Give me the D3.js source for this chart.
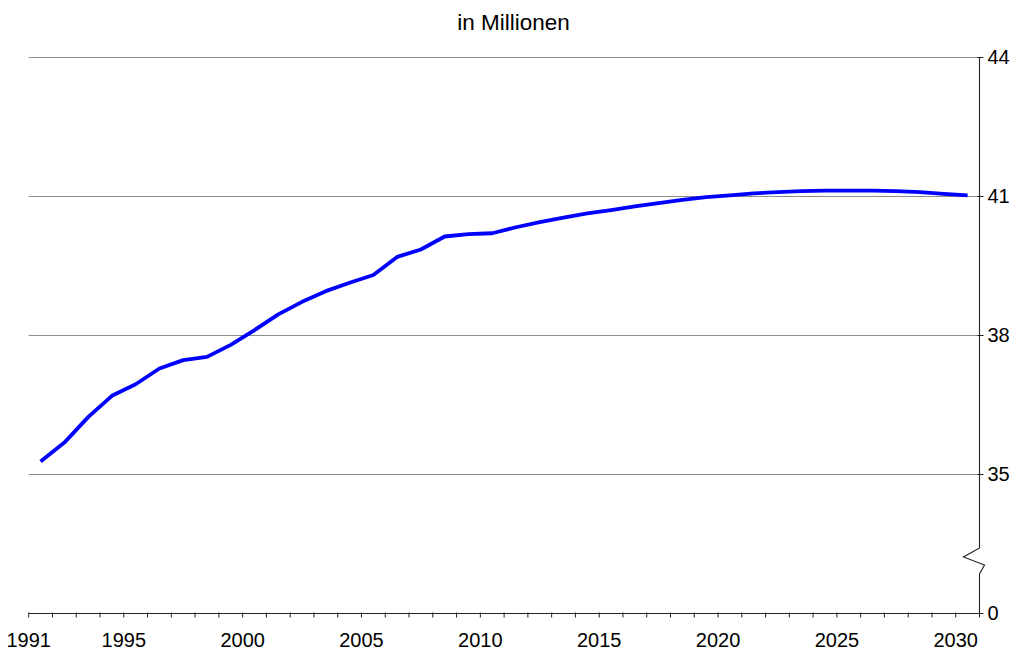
<!DOCTYPE html>
<html>
<head>
<meta charset="utf-8">
<script src="https://cdn.jsdelivr.net/npm/d3@7"></script>
<style>
  html, body { margin: 0; padding: 0; background: #fff; }
  svg { display: block; font-family: Arial, "Liberation Sans", sans-serif; }
</style>
</head>
<body>
<svg id="chart" width="1011" height="650"></svg>
<script>
// ---- data ----
const years = d3.range(1991, 2031);
const values = [
  35.27, 35.68, 36.23, 36.69, 36.94, 37.28, 37.46, 37.53, 37.79, 38.11,
  38.45, 38.72, 38.95, 39.13, 39.30, 39.69, 39.85, 40.13, 40.18, 40.20,
  40.33, 40.44, 40.54, 40.63, 40.70, 40.78, 40.85, 40.92, 40.98, 41.02,
  41.06, 41.09, 41.11, 41.12, 41.12, 41.12, 41.11, 41.09, 41.05, 41.02
];
const xTickLabels = [1991, 1995, 2000, 2005, 2010, 2015, 2020, 2025, 2030];
const yGridValues = [35, 38, 41, 44];
const yBreakBase = 32;      // position where the broken axis shows "0"
const yBreakLabel = "0";
const title = "in Millionen";

// ---- layout ----
const svg = d3.select("#chart");
const plotLeft = 28.7, plotRight = 979.5, plotTop = 57.3, plotBottom = 613;

const x = d3.scaleBand().domain(years).range([plotLeft, plotRight]).padding(0);
const y = d3.scaleLinear().domain([yBreakBase, 44]).range([plotBottom, plotTop]);
const bw = x.bandwidth();

// title
svg.append("text")
  .attr("x", 513.5).attr("y", 29.5)
  .attr("text-anchor", "middle")
  .attr("font-size", 22.5)
  .attr("fill", "#000")
  .text(title);

// gridlines
svg.append("g").selectAll("line")
  .data(yGridValues).join("line")
  .attr("x1", plotLeft).attr("x2", plotRight)
  .attr("y1", d => Math.round(y(d)) + 0.5).attr("y2", d => Math.round(y(d)) + 0.5)
  .attr("stroke", "#8c8c8c").attr("stroke-width", 1);

// x axis
const xAxis = d3.axisBottom(x)
  .tickValues(years)
  .tickSize(4)
  .tickSizeOuter(0)
  .tickFormat(d => xTickLabels.includes(d) ? d : "");
const gx = svg.append("g")
  .attr("transform", `translate(0,${Math.round(plotBottom) + 0.5})`)
  .call(xAxis);
// ticks at band boundaries (left edge of each year band)
gx.selectAll(".tick").attr("transform", d => `translate(${x(d)},0)`);
gx.select(".domain").attr("d", `M${plotLeft},0H${plotRight}`).attr("stroke", "#222");
gx.selectAll(".tick line").attr("stroke", "#222").attr("y1", -1);
gx.selectAll(".tick text")
  .attr("font-size", 20).attr("font-family", "Arial, 'Liberation Sans', sans-serif")
  .attr("fill", "#000").attr("dy", null).attr("y", 33);
// final tick at the right end
gx.append("line").attr("x1", plotRight).attr("x2", plotRight).attr("y1", -1).attr("y2", 4).attr("stroke", "#222");

// right y axis with break
const ax = Math.round(plotRight) - 0.5;
const yb1 = 548, yb2 = 574;
svg.append("path")
  .attr("d", `M${ax},${y(44)}V${yb1}L${ax - 16},${yb1 + 9}L${ax + 5},${yb1 + 17}L${ax},${yb2}V${plotBottom}`)
  .attr("fill", "none").attr("stroke", "#222").attr("stroke-width", 1.1);

const yTicks = yGridValues.map(v => ({ v, label: String(v) }))
  .concat([{ v: yBreakBase, label: yBreakLabel }]);
const gy = svg.append("g");
gy.selectAll("line").data(yTicks).join("line")
  .attr("x1", ax - 2).attr("x2", ax + 4)
  .attr("y1", d => Math.round(y(d.v)) + 0.5).attr("y2", d => Math.round(y(d.v)) + 0.5)
  .attr("stroke", "#222");
gy.selectAll("text").data(yTicks).join("text")
  .attr("x", 987.5)
  .attr("y", d => y(d.v) + 7)
  .attr("font-size", 20)
  .attr("fill", "#000")
  .text(d => d.label);

// line
const line = d3.line()
  .x((d, i) => x(years[i]) + bw / 2)
  .y(d => y(d));
svg.append("path")
  .datum(values)
  .attr("d", line)
  .attr("fill", "none")
  .attr("stroke", "#0000ff")
  .attr("stroke-width", 3.8)
  .attr("stroke-linejoin", "round");
</script>
</body>
</html>
